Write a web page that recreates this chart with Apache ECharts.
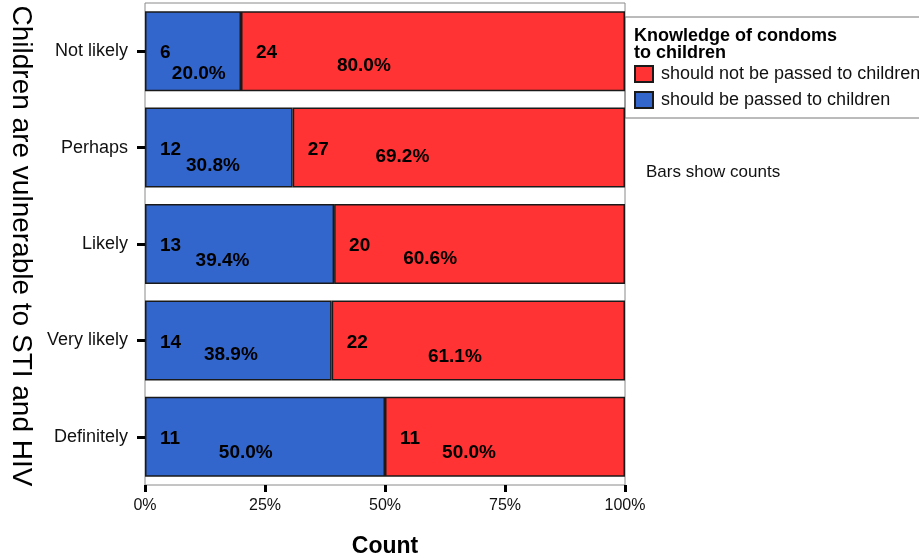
<!DOCTYPE html>
<html>
<head>
<meta charset="utf-8">
<script src="https://cdn.jsdelivr.net/npm/echarts@6/dist/echarts.min.js"></script>
<style>
  html, body { margin: 0; padding: 0; background: #fff; }
  #chart { width: 919px; height: 558px; }
</style>
</head>
<body>
<div id="chart"></div>
<script>
// Answer categories, top to bottom
const categories = ['Not likely', 'Perhaps', 'Likely', 'Very likely', 'Definitely'];
// Counts per category
const passedCounts = [6, 12, 13, 14, 11];      // should be passed to children
const notPassedCounts = [24, 27, 20, 22, 11];  // should not be passed to children
const xTicks = [0, 25, 50, 75, 100];

// Where the percentage text sits inside each segment (fraction of the segment box)
const passedPctPos = [[56, 78], [46, 73], [41, 71], [46, 68], [42, 70]];
const notPassedPctPos = [[32, 68], [33, 61], [33, 69], [42, 71], [35, 70]];

const NAME_PASSED = 'should be passed to children';
const NAME_NOT = 'should not be passed to children';
const BLUE = '#3366CC';
const RED = '#FF3333';
const FONT = '"Liberation Sans", Arial, sans-serif';

const totals = categories.map((_, i) => passedCounts[i] + notPassedCounts[i]);
const passedPct = passedCounts.map((v, i) => v / totals[i] * 100);
const notPassedPct = notPassedCounts.map((v, i) => v / totals[i] * 100);

const countLabel = {
  show: true,
  position: 'insideLeft',
  distance: 15,
  offset: [0, 2],
  color: '#000',
  fontFamily: FONT,
  fontWeight: 'bold',
  fontSize: 19
};

function pctData(pcts, positions) {
  return pcts.map((p, i) => ({
    value: p,
    label: { position: [positions[i][0] + '%', positions[i][1] + '%'] }
  }));
}

const pctLabel = {
  show: true,
  align: 'center',
  verticalAlign: 'middle',
  color: '#000',
  fontFamily: FONT,
  fontWeight: 'bold',
  fontSize: 19,
  formatter: p => p.value.toFixed(1) + '%'
};

const chart = echarts.init(document.getElementById('chart'));
chart.setOption({
  animation: false,
  backgroundColor: '#fff',
  textStyle: { fontFamily: FONT },
  grid: {
    left: 145, right: 294, top: 3, bottom: 73,
    outerBoundsMode: 'none',
    containLabel: false,
    show: true, borderColor: '#8a8a8a', borderWidth: 1, backgroundColor: 'transparent'
  },
  legend: {
    data: [NAME_NOT, NAME_PASSED],
    orient: 'vertical',
    left: 634, top: 65,
    padding: 0,
    itemWidth: 18, itemHeight: 16, itemGap: 8,
    icon: 'rect',
    selectedMode: false,
    textStyle: { fontSize: 18, color: '#111', fontFamily: FONT, padding: [0, 0, 0, 3] }
  },
  xAxis: {
    type: 'value',
    min: xTicks[0], max: xTicks[xTicks.length - 1], interval: 25,
    name: 'Count',
    nameLocation: 'middle',
    nameGap: 50,
    nameTextStyle: { fontSize: 23, fontWeight: 'bold', color: '#000', fontFamily: FONT },
    axisLine: { show: false },
    axisTick: { show: true, length: 7, lineStyle: { color: '#000', width: 3 } },
    axisLabel: { formatter: '{value}%', fontSize: 16, color: '#111', margin: 13, fontFamily: FONT },
    splitLine: { show: false }
  },
  yAxis: {
    type: 'category',
    data: categories,
    inverse: true,
    axisLine: { show: false },
    axisTick: { show: true, alignWithLabel: true, length: 8, lineStyle: { color: '#000', width: 3 } },
    axisLabel: { fontSize: 18, color: '#111', margin: 17, fontFamily: FONT }
  },
  series: [
    {
      name: NAME_PASSED, type: 'bar', stack: 'count', barWidth: '83%', barGap: '-100%',
      itemStyle: { color: BLUE, borderColor: '#1a1a1a', borderWidth: 1.5 },
      label: Object.assign({}, countLabel, { formatter: p => passedCounts[p.dataIndex] }),
      data: passedPct
    },
    {
      name: NAME_NOT, type: 'bar', stack: 'count', barWidth: '83%', barGap: '-100%',
      itemStyle: { color: RED, borderColor: '#1a1a1a', borderWidth: 1.5 },
      label: Object.assign({}, countLabel, { formatter: p => notPassedCounts[p.dataIndex] }),
      data: notPassedPct
    },
    {
      name: 'pct-passed', type: 'bar', stack: 'pct', barWidth: '83%', barGap: '-100%',
      itemStyle: { color: 'transparent' }, silent: true,
      label: pctLabel,
      data: pctData(passedPct, passedPctPos)
    },
    {
      name: 'pct-not', type: 'bar', stack: 'pct', barWidth: '83%', barGap: '-100%',
      itemStyle: { color: 'transparent' }, silent: true,
      label: pctLabel,
      data: pctData(notPassedPct, notPassedPctPos)
    }
  ],
  graphic: [
    {
      type: 'rect', silent: true, z: 1,
      shape: { x: 625, y: 17, width: 300, height: 101 },
      style: { fill: 'none', stroke: '#777', lineWidth: 1 }
    },
    {
      type: 'text', left: 634, top: 27, z: 5,
      style: {
        text: 'Knowledge of condoms\nto children',
        font: 'bold 18px ' + FONT, fill: '#000', lineHeight: 17
      }
    },
    {
      type: 'text', left: 646, top: 164, z: 5,
      style: { text: 'Bars show counts', font: '17px ' + FONT, fill: '#111' }
    },
    {
      type: 'text', z: 5,
      x: 21, y: 246, rotation: -Math.PI / 2,
      style: {
        text: 'Children are vulnerable to STI and HIV',
        font: '28px ' + FONT, fill: '#000', align: 'center', verticalAlign: 'middle'
      }
    }
  ]
});
</script>
</body>
</html>
